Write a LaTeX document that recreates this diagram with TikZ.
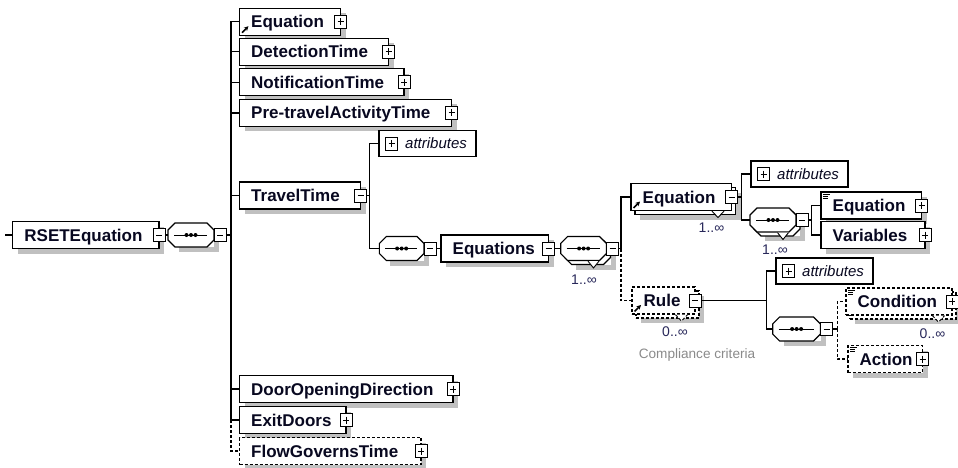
\documentclass[tikz,border=0pt]{standalone}
\usepackage{fontspec}
\setmainfont{Liberation Sans}
\usetikzlibrary{fit,arrows.meta}

\definecolor{inkc}{RGB}{8,8,32}
\definecolor{occc}{RGB}{40,40,90}
\definecolor{notec}{RGB}{138,138,138}
\definecolor{dropc}{RGB}{192,192,192}

\tikzset{
  box/.style={draw=black, line width=1.1pt, fill=white, inner sep=0pt, outer sep=0pt},
  lbl/.style={inner sep=0pt, text=inkc, font=\fontsize{17}{20}\selectfont\bfseries},
  attrlbl/.style={inner sep=0pt, text=inkc, font=\fontsize{15}{18}\selectfont\itshape},
  occ/.style={inner sep=0pt, text=occc, font=\fontsize{14}{16}\selectfont},
  note/.style={inner sep=0pt, text=notec, font=\fontsize{13.6}{16}\selectfont},
  conn/.style={line width=1.3pt, draw=black},
  opt/.style={dash pattern=on 3pt off 2pt},
  strip/.style={inner sep=0pt, outer sep=0pt, anchor=north west},
  pmbox/.style={draw=black, line width=0.9pt, fill=white, minimum width=12pt,
    minimum height=13pt, inner sep=0pt, outer sep=0pt},
  minusbox/.style={pmbox, path picture={\draw[line width=1pt]
    ([xshift=3pt]path picture bounding box.west) -- ([xshift=-3pt]path picture bounding box.east);}},
  plusbox/.style={pmbox, path picture={\draw[line width=1pt]
    ([xshift=3pt]path picture bounding box.west) -- ([xshift=-3pt]path picture bounding box.east)
    ([yshift=-3pt]path picture bounding box.north) -- ([yshift=3pt]path picture bounding box.south);}},
}

% drop shadow strips along the lower right: left, top, right, bottom
\newcommand\drop[4]{%
  \pgfmathsetmacro\shw{(#3)-(#1)}%
  \pgfmathsetmacro\shh{(#4)-(#2)}%
  \node[strip] at (#1+5,#4) {\color{dropc}\rule{\shw pt}{5pt}};
  \node[strip] at (#3,#2+5) {\color{dropc}\rule{5pt}{\shh pt}};
}

% element box: name, left, centre y, right, label, border style, expand box style
\newcommand\elem[7]{%
  \drop{#2}{#3-13.5}{#4}{#3+13.5}
  \node[box,#6,fit={(#2,#3-13.5) (#4,#3+13.5)}] (#1) {};
  \node[lbl,anchor=base west] (#1-t) at (#2+11.5,#3+6) {#5};
  \node[#7] (#1-pm) at (#4,#3) {};
}
% repeated element box (stacked copy behind, with occurrence notch)
\newcommand\stackelem[7]{%
  \drop{#2+4}{#3-9.5}{#4+4}{#3+17.5}
  \node[box,#6,fit={(#2+4,#3-9.5) (#4+4,#3+17.5)}] (#1-bk) {};
  \node[box,#6,fit={(#2,#3-13.5) (#4,#3+13.5)}] (#1) {};
  \filldraw[box,line width=0.9pt,#6] (#4-19.5,#3+14.2) -- (#4-13.5,#3+20.5) -- (#4-7.5,#3+14.2);
  \node[lbl,anchor=base west] (#1-t) at (#2+11.5,#3+6) {#5};
  \node[#7] (#1-pm) at (#4,#3) {};
}
% octagon outline: style, offset, left, right, centre y
\newcommand\octo[5]{%
  \path[#1] (#3+#2+7,#5+#2-12) -- (#4+#2-7,#5+#2-12) -- (#4+#2,#5+#2-5) -- (#4+#2,#5+#2+5)
    -- (#4+#2-7,#5+#2+12) -- (#3+#2+7,#5+#2+12) -- (#3+#2,#5+#2+5) -- (#3+#2,#5+#2-5) -- cycle;}
% sequence compositor symbol
\newcommand\seqmark[3]{%
  \draw[line width=1pt] (#1+6,#3) -- (#2-7,#3);
  \foreach \dx in {-4.5,0,4.5} \fill ({(#1+#2)/2+\dx},#3) circle (2pt);
}
\newcommand\seqnode[4]{% name, left, right, centre y
  \drop{#2+6}{#4-10}{#3}{#4+12}
  \octo{box}{0}{#2}{#3}{#4}
  \node[fit={(#2,#4-12) (#3,#4+12)}, inner sep=0pt] (#1) {};
  \seqmark{#2}{#3}{#4}
  \node[minusbox] (#1-pm) at (#3+6,#4) {};
}
\newcommand\stackseq[4]{% name, left, right, centre y
  \drop{#2+10}{#4-6}{#3+4}{#4+16}
  \octo{box}{4}{#2}{#3}{#4}
  \octo{box}{0}{#2}{#3}{#4}
  \node[fit={(#2,#4-12) (#3,#4+12)}, inner sep=0pt] (#1) {};
  \filldraw[box,line width=0.9pt] (#3-18.5,#4+12.6) -- (#3-13,#4+19.5) -- (#3-7.5,#4+12.6);
  \seqmark{#2}{#3}{#4}
  \node[minusbox] (#1-pm) at (#3+6,#4) {};
}
% attribute group box: name, left, centre y, right
\newcommand\attrbox[4]{%
  \node[box,fit={(#2,#3-13) (#4,#3+13)}] (#1) {};
  \node[plusbox] (#1-pm) at (#2+12.5,#3) {};
  \node[attrlbl,anchor=base west] (#1-t) at (#2+26,#3+5) {attributes};
}
% reference arrow in the lower left corner of a box
\newcommand\linkicon[2]{%
  \draw[line width=1.5pt,-{Stealth[length=4.5pt,width=4.5pt]}] (#1+2.5,#2+11) -- (#1+9,#2+4.5);}
% simple-content mark in the upper left corner of a box
\newcommand\texticon[2]{%
  \draw[line width=0.8pt] (#1+2,#2-11.5) -- ++(7,0) (#1+2,#2-9.5) -- ++(5,0) (#1+2,#2-7.5) -- ++(5,0);}

\begin{document}
\begin{tikzpicture}[x=1pt,y=-1pt]
\useasboundingbox (0,0) rectangle (958,468);

% root element and its sequence
\elem{root}{12.7}{235}{159}{RSETEquation}{solid}{minusbox}
\seqnode{s1}{168}{214}{235}

% children of the root sequence
\elem{eq1}{239.5}{21.7}{340.5}{Equation}{solid}{plusbox}
\linkicon{239.5}{21.7}
\elem{dt}{239.5}{51.7}{388.5}{DetectionTime}{solid}{plusbox}
\elem{nt}{239.5}{82.3}{404}{NotificationTime}{solid}{plusbox}
\elem{pt}{239.5}{113}{451.5}{Pre-travelActivityTime}{solid}{plusbox}
\elem{tt}{239.5}{195.5}{360.5}{TravelTime}{solid}{minusbox}
\elem{dod}{239.5}{389}{453}{DoorOpeningDirection}{solid}{plusbox}
\elem{ed}{239.5}{420}{346}{ExitDoors}{solid}{plusbox}
\elem{fgt}{239.5}{451}{421}{FlowGovernsTime}{opt}{plusbox}

% TravelTime content
\attrbox{a1}{379}{143.5}{476}
\seqnode{s2}{379.3}{424}{248.5}
\elem{eqs}{441}{248.5}{548.5}{Equations}{solid}{minusbox}
\stackseq{s3}{560.7}{606.5}{248.5}
\node[occ] (s3-occ) at (584,280) {1..∞};

% Equations content
\stackelem{eq2}{631}{197}{731.5}{Equation}{solid}{minusbox}
\linkicon{631}{197}
\node[occ] (eq2-occ) at (711.5,228) {1..∞};
\stackelem{rule}{632}{300.5}{695}{Rule}{opt}{minusbox}
\linkicon{632}{300.5}
\node[occ] (rule-occ) at (675,332) {0..∞};
\node[note] (rule-note) at (697,355) {Compliance criteria};

% Equation content
\attrbox{a2}{751}{174}{848}
\stackseq{s4}{750}{796}{220}
\node[occ] (s4-occ) at (775,250) {1..∞};
\elem{eq3}{821}{205.5}{921.5}{Equation}{solid}{plusbox}
\texticon{821}{205.5}
\elem{vars}{821}{235}{925}{Variables}{solid}{plusbox}

% Rule content
\attrbox{a3}{776}{271}{873}
\seqnode{s5}{772.7}{820.5}{329}
\stackelem{cond}{846}{301.5}{952}{Condition}{opt}{plusbox}
\texticon{846}{301.5}
\node[occ] (cond-occ) at (932.5,333.5) {0..∞};
\elem{act}{848}{359}{922.5}{Action}{opt}{plusbox}
\texticon{848}{359}

% junction points of the tree lines
\coordinate (in) at (5,235);
\coordinate (v0) at (231,235);
\coordinate (v1) at (369.3,195.5);
\coordinate (v2) at (621,248.5);
\coordinate (v3) at (741.7,197);
\coordinate (v4) at (811.7,220);
\coordinate (v5) at (766.7,300.5);
\coordinate (v6) at (837.3,329);

% connectors
\begin{scope}[conn]
  \draw (in) -- (root.west);
  \draw (root-pm.east) -- (s1.west);
  \draw (s1-pm.east) -- (v0);
  \draw[opt] (v0) |- (fgt.west);
  \foreach \c in {eq1,dt,nt,pt,tt,dod,ed} \draw (v0) |- (\c.west);
  \draw (tt-pm.east) -- (v1);
  \draw (v1) |- (a1.west);
  \draw (v1) |- (s2.west);
  \draw (s2-pm.east) -- (eqs.west);
  \draw (eqs-pm.east) -- (s3.west);
  \draw (s3-pm.east) -- (v2);
  \draw[opt] (v2) |- (rule.west);
  \draw (v2) |- (eq2.west);
  \draw (eq2-pm.east) -- (v3);
  \draw (v3) |- (a2.west);
  \draw (v3) |- (s4.west);
  \draw (s4-pm.east) -- (v4);
  \draw (v4) |- (eq3.west);
  \draw (v4) |- (vars.west);
  \draw (rule-pm.east) -- (v5);
  \draw (v5) |- (a3.west);
  \draw (v5) |- (s5.west);
  \draw (s5-pm.east) -- (v6);
  \draw[opt] (v6) |- (cond.west);
  \draw[opt] (v6) |- (act.west);
\end{scope}
\end{tikzpicture}
\end{document}
